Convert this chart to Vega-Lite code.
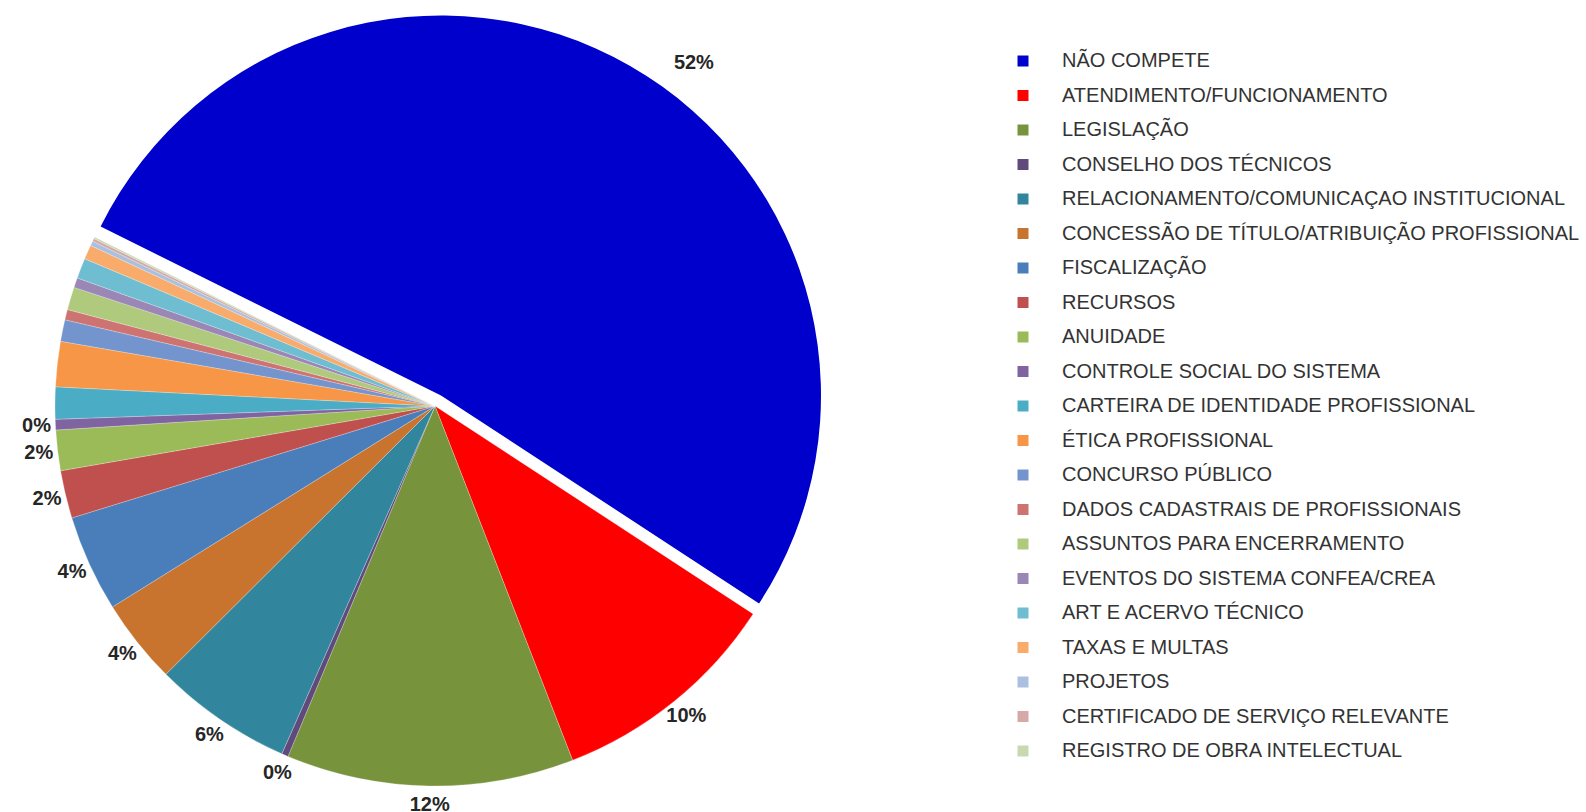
{
  "$schema": "https://vega.github.io/schema/vega-lite/v6.json",
  "width": 870,
  "height": 812,
  "padding": 0,
  "background": "white",
  "config": {"view": {"stroke": null}},
  "data": {"values": [
    {"cat": "NÃO COMPETE", "value": 51.88, "order": 1, "label": "52%"},
    {"cat": "ATENDIMENTO/FUNCIONAMENTO", "value": 9.89, "order": 2, "label": "10%"},
    {"cat": "LEGISLAÇÃO", "value": 12.22, "order": 3, "label": "12%"},
    {"cat": "CONSELHO DOS TÉCNICOS", "value": 0.28, "order": 4, "label": "0%"},
    {"cat": "RELACIONAMENTO/COMUNICAÇAO INSTITUCIONAL", "value": 5.92, "order": 5, "label": "6%"},
    {"cat": "CONCESSÃO DE TÍTULO/ATRIBUIÇÃO PROFISSIONAL", "value": 3.61, "order": 6, "label": "4%"},
    {"cat": "FISCALIZAÇÃO", "value": 4.11, "order": 7, "label": "4%"},
    {"cat": "RECURSOS", "value": 2.03, "order": 8, "label": "2%"},
    {"cat": "ANUIDADE", "value": 1.72, "order": 9, "label": "2%"},
    {"cat": "CONTROLE SOCIAL DO SISTEMA", "value": 0.45, "order": 10, "label": "0%"},
    {"cat": "CARTEIRA DE IDENTIDADE PROFISSIONAL", "value": 1.36, "order": 11, "label": ""},
    {"cat": "ÉTICA PROFISSIONAL", "value": 1.92, "order": 12, "label": ""},
    {"cat": "CONCURSO PÚBLICO", "value": 0.92, "order": 13, "label": ""},
    {"cat": "DADOS CADASTRAIS DE PROFISSIONAIS", "value": 0.44, "order": 14, "label": ""},
    {"cat": "ASSUNTOS PARA ENCERRAMENTO", "value": 0.97, "order": 15, "label": ""},
    {"cat": "EVENTOS DO SISTEMA CONFEA/CREA", "value": 0.42, "order": 16, "label": ""},
    {"cat": "ART E ACERVO TÉCNICO", "value": 0.86, "order": 17, "label": ""},
    {"cat": "TAXAS E MULTAS", "value": 0.61, "order": 18, "label": ""},
    {"cat": "PROJETOS", "value": 0.2, "order": 19, "label": ""},
    {"cat": "CERTIFICADO DE SERVIÇO RELEVANTE", "value": 0.12, "order": 20, "label": ""},
    {"cat": "REGISTRO DE OBRA INTELECTUAL", "value": 0.07, "order": 21, "label": ""}
  ]},
  "encoding": {
    "theta": {"field": "value", "type": "quantitative", "stack": true,
      "scale": {"domain": [0, 100], "range": [5.1731, 11.4563]}},
    "order": {"field": "order", "type": "quantitative"}
  },
  "layer": [
    {
      "mark": {"type": "arc", "radius": 380, "stroke": "white", "strokeWidth": 0.4, "strokeOpacity": 0.6},
      "encoding": {
        "color": {"field": "cat", "type": "nominal",
          "scale": {
            "domain": ["NÃO COMPETE", "ATENDIMENTO/FUNCIONAMENTO", "LEGISLAÇÃO", "CONSELHO DOS TÉCNICOS", "RELACIONAMENTO/COMUNICAÇAO INSTITUCIONAL", "CONCESSÃO DE TÍTULO/ATRIBUIÇÃO PROFISSIONAL", "FISCALIZAÇÃO", "RECURSOS", "ANUIDADE", "CONTROLE SOCIAL DO SISTEMA", "CARTEIRA DE IDENTIDADE PROFISSIONAL", "ÉTICA PROFISSIONAL", "CONCURSO PÚBLICO", "DADOS CADASTRAIS DE PROFISSIONAIS", "ASSUNTOS PARA ENCERRAMENTO", "EVENTOS DO SISTEMA CONFEA/CREA", "ART E ACERVO TÉCNICO", "TAXAS E MULTAS", "PROJETOS", "CERTIFICADO DE SERVIÇO RELEVANTE", "REGISTRO DE OBRA INTELECTUAL"],
            "range": ["#0000CC", "#FF0000", "#77933C", "#604A7B", "#31859C", "#C8742F", "#4A7EBB", "#C0504D", "#9BBB59", "#8064A2", "#4BACC6", "#F79646", "#7394CC", "#CD7371", "#AFCA7D", "#9A87B5", "#6FBDD1", "#F9AB6B", "#A9C0DE", "#D5A9A8", "#C9D8B0"]
          },
          "legend": {
            "title": null, "orient": "none", "legendX": 1013, "legendY": 51,
            "symbolType": "square", "symbolSize": 121, "symbolStrokeWidth": 0,
            "labelFont": "Liberation Sans", "labelFontSize": 20, "labelColor": "#333333",
            "labelLimit": 700, "labelOffset": 29, "rowPadding": 14.5
          }
        },
        "fillOpacity": {"condition": {"test": "datum.cat === 'NÃO COMPETE'", "value": 0}, "value": 1},
        "strokeOpacity": {"condition": {"test": "datum.cat === 'NÃO COMPETE'", "value": 0}, "value": 0.6}
      }
    },
    {
      "mark": {"type": "arc", "radius": 380, "xOffset": 6, "yOffset": -10.5},
      "encoding": {
        "color": {"field": "cat", "type": "nominal"},
        "fillOpacity": {"condition": {"test": "datum.cat === 'NÃO COMPETE'", "value": 1}, "value": 0}
      }
    },
    {
      "mark": {"type": "text", "radius": 399, "fontSize": 20, "fontWeight": "bold", "font": "Liberation Sans"},
      "encoding": {
        "detail": {"field": "cat", "type": "nominal"},
        "color": {"value": "#262626"},
        "text": {"field": "label", "type": "nominal", "condition": {"test": "datum.cat === 'NÃO COMPETE'", "value": ""}}
      }
    },
    {
      "mark": {"type": "text", "radius": 418, "thetaOffset": 0.13, "xOffset": 6, "yOffset": -10.5, "fontSize": 20, "fontWeight": "bold", "font": "Liberation Sans"},
      "encoding": {
        "detail": {"field": "cat", "type": "nominal"},
        "color": {"value": "#262626"},
        "text": {"field": "label", "type": "nominal", "condition": {"test": "datum.cat !== 'NÃO COMPETE'", "value": ""}}
      }
    }
  ]
}
